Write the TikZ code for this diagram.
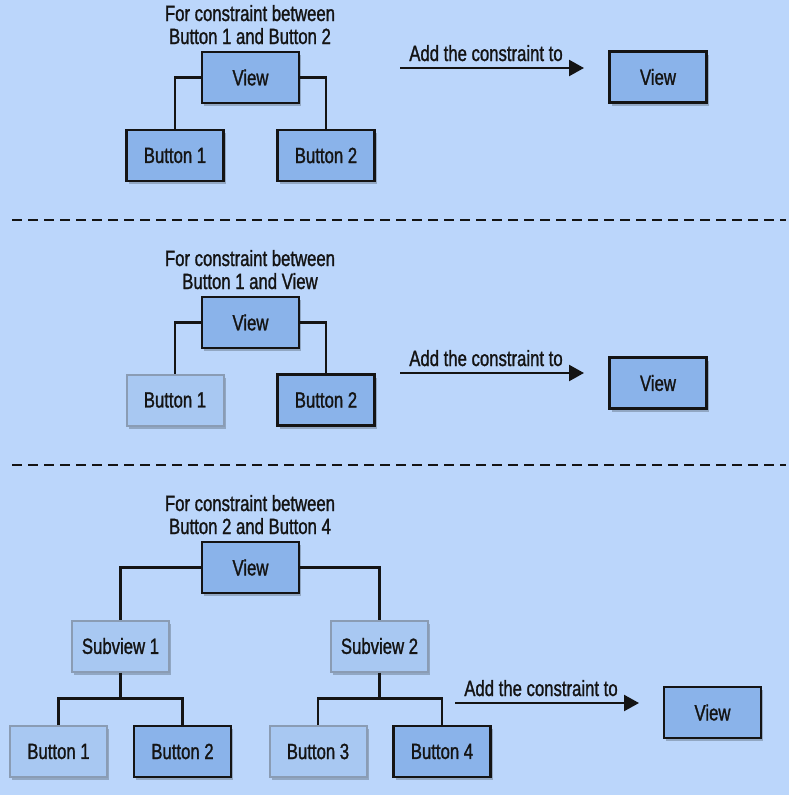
\documentclass[tikz,border=0pt]{standalone}
\usepackage{fontspec}
\setmainfont{Liberation Sans}[FakeStretch=0.76,FakeBold=1.2]
\usetikzlibrary{arrows.meta,shadows}
\definecolor{bgblue}{HTML}{BBD6FB}
\definecolor{darkfill}{HTML}{8AB3EA}
\definecolor{lightfill}{HTML}{A8C8F2}
\definecolor{lightline}{HTML}{8A9CB4}
\definecolor{inkc}{HTML}{141414}
\tikzset{
  boxbase/.style={rectangle, minimum width=97pt, minimum height=51pt, inner sep=0pt,
    font=\fontsize{22}{23}\selectfont, text=inkc,
    drop shadow={shadow xshift=2pt, shadow yshift=-3pt, opacity=0.22, fill=black}},
  darkbox/.style={boxbase, draw=inkc, line width=2.7pt, fill=darkfill},
  lightbox/.style={boxbase, draw=lightline, line width=2pt, fill=lightfill},
  link/.style={draw=inkc, line width=2.3pt},
  addarrow/.style={draw=inkc, line width=2.3pt, -{Triangle[length=15pt,width=16pt]}},
  title/.style={font=\fontsize{22}{23}\selectfont, text=inkc, inner sep=0pt, anchor=base},
  arrowlabel/.style={font=\fontsize{22}{23}\selectfont, text=inkc, inner sep=0pt, anchor=base},
  separator/.style={draw=inkc, line width=2.6pt, dash pattern=on 10pt off 6pt}
}
\begin{document}
\begin{tikzpicture}[x=1pt,y=-1pt]
\useasboundingbox (0,0) rectangle (789,795);
\fill[bgblue] (0,0) rectangle (789,795);

% ---------- Section 1 ----------
\node[title] (t1a) at (250,21) {For constraint between};
\node[title] (t1b) at (250,44) {Button 1 and Button 2};
\node[darkbox] (v1) at (250.5,77.5) {View};
\node[darkbox] (b11) at (175,155.5) {Button 1};
\node[darkbox] (b12) at (326,155.5) {Button 2};
\draw[link] (v1.west) -| (b11.north);
\draw[link] (v1.east) -| (b12.north);
\coordinate (a1s) at (400,68);
\coordinate (a1e) at (584,68);
\draw[addarrow] (a1s) -- (a1e);
\node[arrowlabel] (l1) at (486,61) {Add the constraint to};
\node[darkbox] (r1) at (658,77) {View};

\coordinate (d1s) at (12,220);
\coordinate (d1e) at (786,220);
\draw[separator] (d1s) -- (d1e);

% ---------- Section 2 ----------
\node[title] (t2a) at (250,266) {For constraint between};
\node[title] (t2b) at (250,289) {Button 1 and View};
\node[darkbox] (v2) at (250.5,322.5) {View};
\node[lightbox] (b21) at (175,400) {Button 1};
\node[darkbox] (b22) at (326,400) {Button 2};
\draw[link] (v2.west) -| (b21.north);
\draw[link] (v2.east) -| (b22.north);
\coordinate (a2s) at (400,373);
\coordinate (a2e) at (584,373);
\draw[addarrow] (a2s) -- (a2e);
\node[arrowlabel] (l2) at (486,366) {Add the constraint to};
\node[darkbox] (r2) at (658,383) {View};

\coordinate (d2s) at (12,465);
\coordinate (d2e) at (786,465);
\draw[separator] (d2s) -- (d2e);

% ---------- Section 3 ----------
\node[title] (t3a) at (250,511) {For constraint between};
\node[title] (t3b) at (250,534) {Button 2 and Button 4};
\node[darkbox] (v3) at (250.5,567.5) {View};
\node[lightbox] (s1) at (120.5,646) {Subview 1};
\node[lightbox] (s2) at (379.5,646) {Subview 2};
\node[lightbox] (b31) at (58.5,751.5) {Button 1};
\node[darkbox] (b32) at (182.5,751.5) {Button 2};
\node[lightbox] (b33) at (318,751.5) {Button 3};
\node[darkbox] (b34) at (442,751.5) {Button 4};
\draw[link] (v3.west) -| (s1.north);
\draw[link] (v3.east) -| (s2.north);
\draw[link] (s1.south) -- ++(0,26) coordinate (j1);
\draw[link] (b31.north) |- (j1) -| (b32.north);
\draw[link] (s2.south) -- ++(0,26) coordinate (j2);
\draw[link] (b33.north) |- (j2) -| (b34.north);
\coordinate (a3s) at (455,703);
\coordinate (a3e) at (639,703);
\draw[addarrow] (a3s) -- (a3e);
\node[arrowlabel] (l3) at (541,696) {Add the constraint to};
\node[darkbox] (r3) at (712.5,712.5) {View};
\end{tikzpicture}
\end{document}
